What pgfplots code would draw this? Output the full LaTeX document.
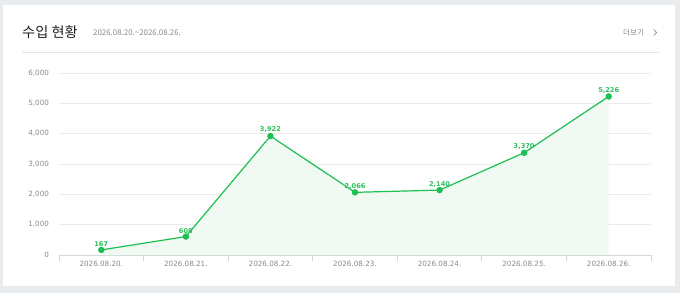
\documentclass[border=0pt]{standalone}
\usepackage{fontspec}
\setmainfont{Noto Sans CJK KR}
\newfontfamily\dejavu{DejaVu Sans}
\usepackage{pgfplots}
\pgfplotsset{compat=1.18}
\definecolor{bggray}{HTML}{E9ECEF}
\definecolor{gridgray}{HTML}{EBEBEB}
\definecolor{axisgray}{HTML}{D4D7DB}
\definecolor{labelgray}{HTML}{8A8A8A}
\definecolor{linegreen}{HTML}{1DBF52}
\definecolor{labelgreen}{HTML}{2CC05C}
\definecolor{fillgreen}{HTML}{F0FAF2}
\definecolor{titlegray}{HTML}{222222}
\definecolor{sepgray}{HTML}{E4E6E8}
\begin{document}
\begin{tikzpicture}[x=1pt,y=1pt]
\useasboundingbox (0,0) rectangle (680,293);
\fill[bggray] (0,0) rectangle (680,293);
\fill[white] (3,7) rectangle (675,288);
\node[anchor=west, inner sep=0, text=titlegray, font=\fontsize{14.2}{16}\selectfont] at (22,260.5) {수입 현황};
\node[anchor=west, inner sep=0, text=labelgray, font=\fontsize{7.9}{9}\selectfont] at (93,260) {2026.08.20.\textasciitilde2026.08.26.};
\node[anchor=west, inner sep=0, text=labelgray, font=\fontsize{7.6}{9}\selectfont] at (623,260.5) {더보기};
\draw[labelgray, line width=0.7pt] (653.5,263.5) -- (656.5,260.5) -- (653.5,257.5);
\draw[sepgray, line width=0.8pt] (22,241) -- (659,241);
\begin{axis}[
  at={(59pt,38pt)}, anchor=south west,
  scale only axis, width=592pt, height=182pt,
  xmin=-0.5, xmax=6.5, ymin=0, ymax=6000,
  axis x line*=bottom, axis y line*=left,
  axis line style={-},
  x axis line style={draw=axisgray, line width=0.8pt},
  y axis line style={draw=none},
  ytick={0,1000,...,6000},
  ymajorgrids, grid style={draw=gridgray, line width=0.7pt},
  xtick={0,...,6},
  xticklabels={2026.08.20.,2026.08.21.,2026.08.22.,2026.08.23.,2026.08.24.,2026.08.25.,2026.08.26.},
  minor xtick={-0.5,0.5,...,6.5},
  major tick length=0pt, minor tick length=5.5pt,
  tick align=outside,
  minor tick style={draw=axisgray, line width=0.8pt},
  /pgf/number format/assume math mode=true,
  /pgf/number format/1000 sep={,},
  tick label style={font=\dejavu\fontsize{7.2}{8}\selectfont, text=labelgray},
  yticklabel style={xshift=-6.5pt},
  xticklabel style={yshift=-3pt},
  clip=false,
]
\addplot[draw=none, fill=fillgreen] coordinates {(0,167) (1,608) (2,3922) (3,2066) (4,2140) (5,3370) (6,5226)} \closedcycle;
\addplot[linegreen, line width=1.2pt, mark=*, mark size=2.6pt, mark options={fill=linegreen, draw=linegreen},
  nodes near coords,
  nodes near coords style={font=\dejavu\bfseries\fontsize{6.6}{7}\selectfont, text=labelgreen, anchor=south, yshift=0.5pt, inner sep=2pt}]
  coordinates {(0,167) (1,608) (2,3922) (3,2066) (4,2140) (5,3370) (6,5226)};
\end{axis}
\end{tikzpicture}
\end{document}
